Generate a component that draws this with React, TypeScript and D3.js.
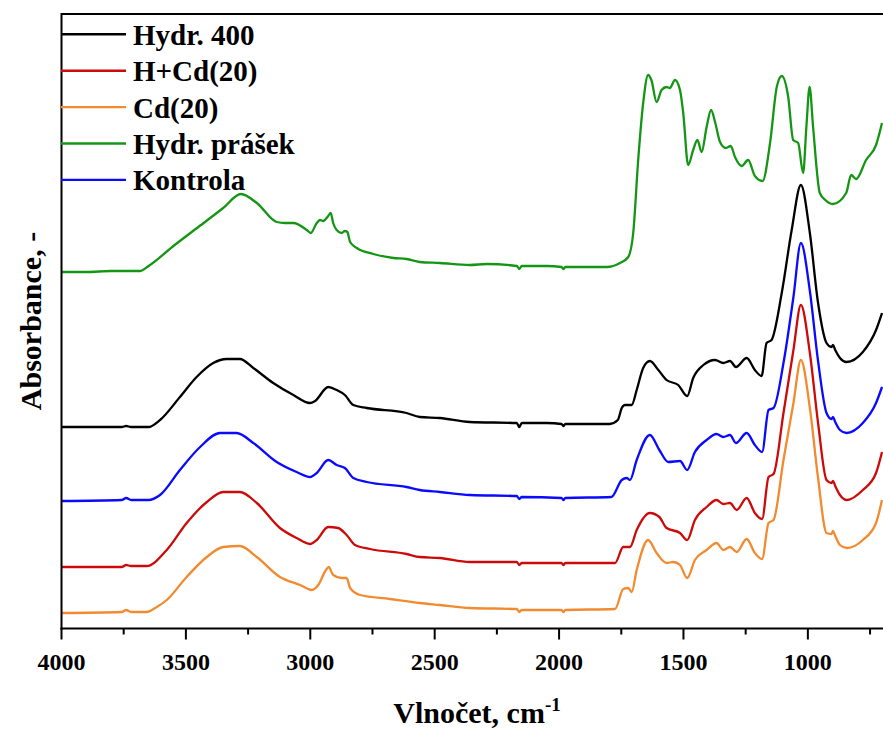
import React from "react";
import * as d3 from "d3";

type Pt = [number, number];

const seriesNames = ["Hydr. 400", "H+Cd(20)", "Cd(20)", "Hydr. prášek", "Kontrola"];
const seriesColors = ["#000000", "#cc0a0a", "#f28a30", "#149614", "#0a0aff"];

const hydr400: Pt[] = [
  [4000, 1.99], [3758, 1.99], [3740, 2.0], [3720, 1.99], [3651, 1.99], [3604, 2.06], [3524, 2.29],
  [3457, 2.49], [3390, 2.63], [3336, 2.67], [3283, 2.67], [3229, 2.58], [3149, 2.43], [3068, 2.31],
  [3001, 2.23], [2981, 2.25], [2928, 2.39], [2894, 2.36], [2861, 2.31], [2827, 2.21], [2773, 2.18],
  [2613, 2.13], [2560, 2.09], [2479, 2.08], [2359, 2.04], [2170, 2.03], [2160, 1.99], [2150, 2.03],
  [2050, 2.03], [1990, 2.02], [1983, 2.0], [1975, 2.02], [1797, 2.02], [1764, 2.06], [1748, 2.18],
  [1735, 2.21], [1708, 2.21], [1688, 2.36], [1662, 2.58], [1635, 2.65], [1601, 2.56], [1568, 2.46],
  [1521, 2.41], [1485, 2.3], [1461, 2.48], [1420, 2.61], [1373, 2.66], [1340, 2.63], [1313, 2.65],
  [1289, 2.59], [1246, 2.68], [1213, 2.56], [1186, 2.5], [1166, 2.83], [1146, 2.86], [1105, 3.33],
  [1065, 3.96], [1028, 4.41], [992, 3.93], [959, 3.23], [925, 2.83], [905, 2.79], [899, 2.81],
  [890, 2.76], [871, 2.68], [845, 2.64], [779, 2.74], [726, 2.96], [702, 3.13],
];

const hCd20: Pt[] = [
  [4000, 0.59], [3758, 0.59], [3740, 0.61], [3720, 0.6], [3658, 0.6], [3577, 0.76], [3497, 1.03],
  [3416, 1.24], [3350, 1.34], [3283, 1.34], [3215, 1.23], [3122, 0.98], [3055, 0.88], [3001, 0.82],
  [2974, 0.86], [2928, 0.99], [2888, 0.98], [2854, 0.91], [2820, 0.81], [2760, 0.77], [2613, 0.72],
  [2560, 0.69], [2479, 0.68], [2359, 0.64], [2170, 0.64], [2160, 0.61], [2150, 0.63], [1990, 0.63],
  [1983, 0.61], [1975, 0.63], [1775, 0.63], [1742, 0.79], [1715, 0.79], [1688, 0.96], [1635, 1.13],
  [1597, 1.09], [1568, 0.98], [1514, 0.93], [1485, 0.86], [1454, 1.06], [1407, 1.19], [1367, 1.26],
  [1340, 1.22], [1313, 1.23], [1286, 1.16], [1246, 1.28], [1213, 1.13], [1184, 1.07], [1158, 1.49],
  [1138, 1.52], [1098, 2.13], [1058, 2.76], [1028, 3.21], [992, 2.73], [959, 2.03], [925, 1.46],
  [905, 1.43], [899, 1.45], [890, 1.4], [871, 1.31], [843, 1.26], [779, 1.36], [726, 1.53], [702, 1.74],
];

const cd20: Pt[] = [
  [4000, 0.13], [3758, 0.14], [3740, 0.16], [3720, 0.14], [3658, 0.14], [3617, 0.19], [3577, 0.26],
  [3497, 0.49], [3416, 0.69], [3350, 0.79], [3283, 0.8], [3215, 0.69], [3122, 0.49], [3041, 0.41],
  [2994, 0.36], [2968, 0.41], [2937, 0.56], [2926, 0.59], [2908, 0.51], [2874, 0.48], [2854, 0.48],
  [2840, 0.38], [2800, 0.31], [2680, 0.27], [2560, 0.23], [2479, 0.21], [2359, 0.18], [2170, 0.17],
  [2160, 0.14], [2150, 0.16], [1990, 0.16], [1983, 0.14], [1975, 0.16], [1775, 0.17], [1742, 0.37],
  [1722, 0.38], [1708, 0.34], [1688, 0.56], [1642, 0.86], [1608, 0.73], [1568, 0.63], [1541, 0.64],
  [1514, 0.61], [1485, 0.48], [1454, 0.66], [1407, 0.76], [1367, 0.83], [1340, 0.76], [1313, 0.79],
  [1286, 0.74], [1246, 0.87], [1213, 0.73], [1184, 0.67], [1158, 1.03], [1138, 1.06], [1098, 1.66],
  [1058, 2.23], [1028, 2.66], [992, 2.18], [959, 1.48], [925, 0.93], [905, 0.92], [899, 0.95],
  [890, 0.9], [871, 0.81], [843, 0.78], [779, 0.86], [726, 1.03], [702, 1.26],
];

const hydrPowder: Pt[] = [
  [4000, 3.54], [3900, 3.54], [3800, 3.55], [3685, 3.55], [3650, 3.6], [3550, 3.8], [3450, 3.99],
  [3350, 4.18], [3279, 4.32], [3215, 4.23], [3135, 4.04], [3102, 4.03], [3068, 4.03], [3014, 3.96],
  [2998, 3.93], [2974, 4.03], [2961, 4.06], [2948, 4.05], [2928, 4.1], [2918, 4.13], [2908, 4.03],
  [2894, 3.96], [2874, 3.93], [2861, 3.95], [2851, 3.94], [2840, 3.84], [2813, 3.78], [2747, 3.72],
  [2666, 3.68], [2613, 3.67], [2560, 3.64], [2479, 3.63], [2359, 3.61], [2291, 3.62], [2170, 3.6],
  [2160, 3.57], [2150, 3.6], [2050, 3.6], [1990, 3.59], [1983, 3.57], [1975, 3.59], [1808, 3.59],
  [1755, 3.63], [1722, 3.69], [1702, 3.93], [1682, 4.66], [1662, 5.23], [1642, 5.51], [1629, 5.46],
  [1608, 5.24], [1588, 5.36], [1568, 5.39], [1555, 5.38], [1534, 5.46], [1514, 5.36], [1501, 5.13],
  [1481, 4.61], [1461, 4.76], [1444, 4.86], [1427, 4.74], [1407, 4.99], [1389, 5.16], [1373, 5.04],
  [1353, 4.84], [1330, 4.78], [1310, 4.8], [1293, 4.69], [1266, 4.6], [1240, 4.66], [1213, 4.5],
  [1182, 4.45], [1152, 4.83], [1125, 5.39], [1105, 5.5], [1079, 5.29], [1059, 4.86], [1039, 4.83],
  [1019, 4.53], [1006, 4.99], [993, 5.39], [979, 4.99], [952, 4.33], [930, 4.26], [899, 4.22],
  [846, 4.33], [826, 4.51], [806, 4.47], [766, 4.66], [726, 4.81], [702, 5.03],
];

const kontrola: Pt[] = [
  [4000, 1.25], [3758, 1.26], [3740, 1.28], [3720, 1.26], [3651, 1.26], [3604, 1.31], [3524, 1.56],
  [3443, 1.79], [3363, 1.93], [3296, 1.93], [3229, 1.83], [3135, 1.64], [3055, 1.54], [3001, 1.49],
  [2974, 1.53], [2928, 1.66], [2894, 1.61], [2861, 1.58], [2827, 1.48], [2773, 1.44], [2613, 1.39],
  [2560, 1.36], [2479, 1.34], [2359, 1.31], [2170, 1.3], [2160, 1.27], [2150, 1.29], [1990, 1.28],
  [1983, 1.26], [1975, 1.28], [1790, 1.29], [1748, 1.46], [1728, 1.48], [1715, 1.46], [1688, 1.66],
  [1635, 1.91], [1597, 1.76], [1561, 1.64], [1514, 1.65], [1485, 1.56], [1454, 1.74], [1407, 1.86],
  [1367, 1.92], [1340, 1.89], [1313, 1.91], [1289, 1.83], [1246, 1.93], [1213, 1.81], [1184, 1.74],
  [1158, 2.16], [1138, 2.18], [1098, 2.63], [1058, 3.29], [1028, 3.83], [992, 3.35], [959, 2.65],
  [925, 2.13], [905, 2.07], [899, 2.09], [890, 2.04], [871, 1.96], [845, 1.93], [779, 2.03],
  [726, 2.23], [702, 2.39],
];

const seriesData: Pt[][] = [hydr400, hCd20, cd20, hydrPowder, kontrola];
const drawOrder = [3, 0, 4, 1, 2];

const xMajorTicks = [4000, 3500, 3000, 2500, 2000, 1500, 1000];
const xMinorTicks = [3750, 3250, 2750, 2250, 1750, 1250, 750];

const W = 883;
const H = 731;
const left = 61.5;
const right = 882.5;
const top = 14;
const bottom = 628.5;

export default function App() {
  const x = d3.scaleLinear().domain([4000, 700]).range([left, right]);
  const y = d3.scaleLinear().domain([-0.025, 6.12]).range([bottom, top]);
  const line = d3
    .line<Pt>()
    .x((d) => x(d[0]))
    .y((d) => y(d[1]))
    .curve(d3.curveMonotoneX);

  const font = "'Liberation Serif', 'Times New Roman', serif";

  return (
    <div style={{ position: "absolute", left: 0, top: 0 }}>
      <svg width={W} height={H} style={{ display: "block" }}>
        <rect width={W} height={H} fill="#ffffff" />
        <defs>
          <clipPath id="plotclip">
            <rect x={left} y={top} width={right - left + 2} height={bottom - top} />
          </clipPath>
        </defs>
        <g clipPath="url(#plotclip)">
          {drawOrder.map((i) => (
            <path
              key={i}
              d={line(seriesData[i]) || ""}
              fill="none"
              stroke={seriesColors[i]}
              strokeWidth={2.3}
              strokeLinejoin="round"
            />
          ))}
        </g>
        {/* frame */}
        <line x1={left} x2={W} y1={top} y2={top} stroke="#000" strokeWidth={2} />
        <line x1={left} x2={left} y1={top - 1} y2={bottom + 1} stroke="#000" strokeWidth={2} />
        <line x1={left - 1} x2={W} y1={bottom} y2={bottom} stroke="#000" strokeWidth={2} />
        {xMajorTicks.map((t) => (
          <line key={"M" + t} x1={x(t)} x2={x(t)} y1={bottom} y2={bottom + 11} stroke="#000" strokeWidth={2} />
        ))}
        {xMinorTicks.map((t) => (
          <line key={"m" + t} x1={x(t)} x2={x(t)} y1={bottom} y2={bottom + 6} stroke="#000" strokeWidth={2} />
        ))}
        {xMajorTicks.map((t) => (
          <text
            key={"L" + t}
            x={x(t)}
            y={670}
            textAnchor="middle"
            fontFamily={font}
            fontWeight="bold"
            fontSize={24}
            fill="#000"
          >
            {t}
          </text>
        ))}
        <text x={477} y={723} textAnchor="middle" fontFamily={font} fontWeight="bold" fontSize={30} fill="#000">
          Vlnočet, cm
          <tspan fontSize={19} dy={-12}>-1</tspan>
        </text>
        <text
          transform={`translate(41, 321) rotate(-90)`}
          textAnchor="middle"
          fontFamily={font}
          fontWeight="bold"
          fontSize={30}
          fill="#000"
        >
          Absorbance, -
        </text>
        {/* legend */}
        {seriesNames.map((name, i) => {
          const cy = 34.3 + i * 36.4;
          return (
            <g key={name}>
              <line x1={61} x2={126} y1={cy} y2={cy} stroke={seriesColors[i]} strokeWidth={2.4} />
              <text x={133} y={cy + 10.5} fontFamily={font} fontWeight="bold" fontSize={29} fill="#000">
                {name}
              </text>
            </g>
          );
        })}
      </svg>
    </div>
  );
}
